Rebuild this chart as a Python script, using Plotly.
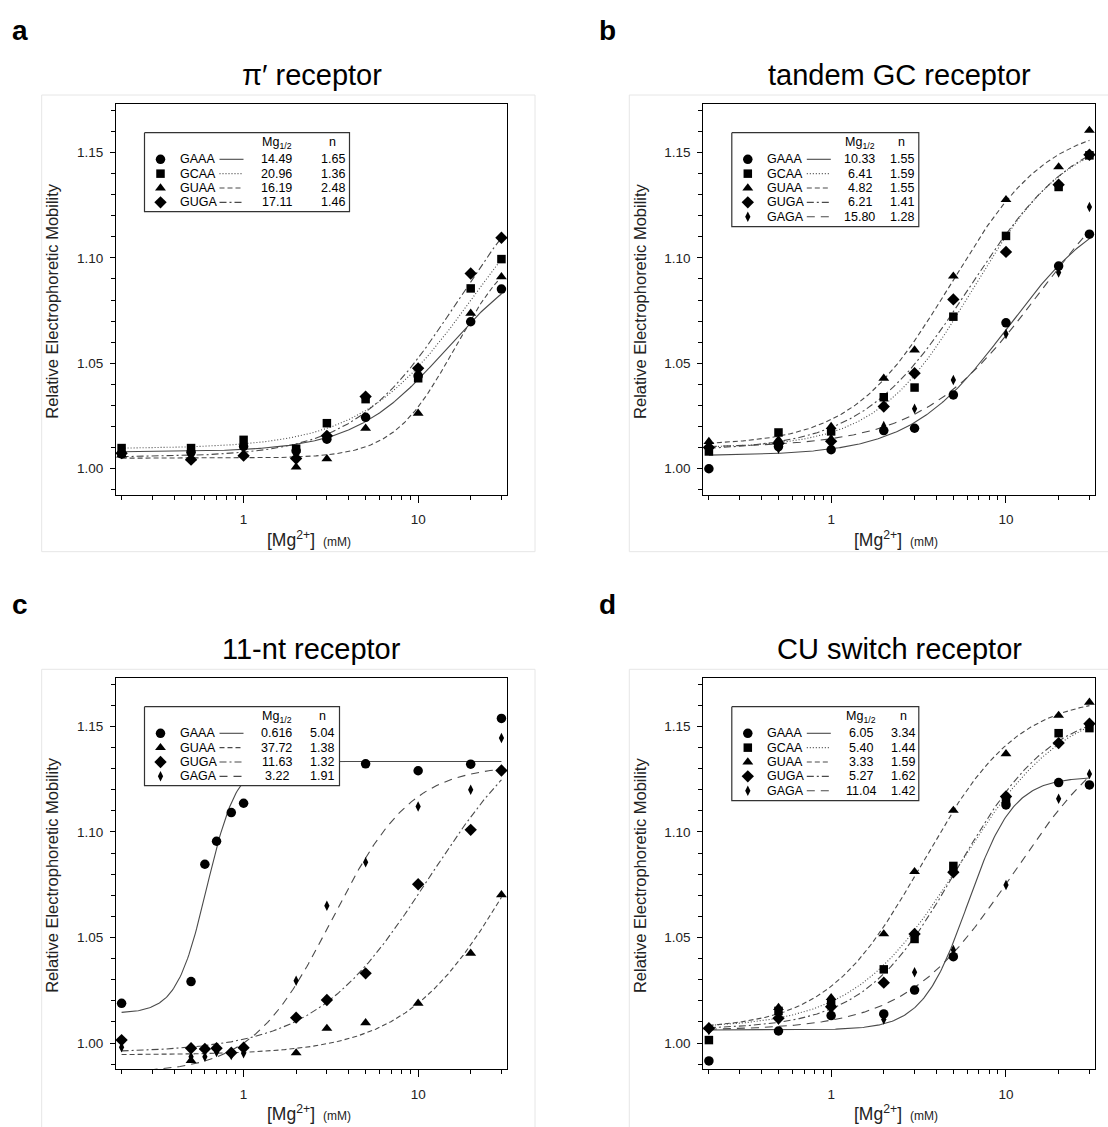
import numpy as np
import plotly.graph_objects as go

# ---------------- data ----------------
conc = [0.2, 0.5, 1, 2, 3, 5, 10, 20, 30]
conc_c = [0.2, 0.5, 0.6, 0.7, 0.85, 1, 2, 3, 5, 10, 20, 30]
conc_c_gaaa = [0.2, 0.5, 0.6, 0.7, 0.85, 1, 5, 10, 20, 30]
conc_c_guaa = [0.5, 2, 3, 5, 10, 20, 30]

names_4 = ["GAAA", "GCAA", "GUAA", "GUGA"]
names_5 = ["GAAA", "GCAA", "GUAA", "GUGA", "GAGA"]
names_c = ["GAAA", "GUAA", "GUGA", "GAGA"]

# panel a  (pi' receptor)
a_GAAA = [1.0071, 1.0078, 1.0106, 1.0085, 1.0140, 1.0244, 1.0440, 1.0697, 1.0852]
a_GCAA = [1.0098, 1.0098, 1.0137, 1.0095, 1.0216, 1.0330, 1.0429, 1.0855, 1.0994]
a_GUAA = [1.0065, 1.0048, 1.0066, 1.0008, 1.0047, 1.0192, 1.0263, 1.0737, 1.0910]
a_GUGA = [1.0074, 1.0043, 1.0062, 1.0048, 1.0156, 1.0342, 1.0476, 1.0926, 1.1095]
a_mg = ["14.49", "20.96", "16.19", "17.11"]
a_n = ["1.65", "1.36", "2.48", "1.46"]
a_K = [14.49, 20.96, 16.19, 17.11]
a_h = [1.65, 1.36, 2.48, 1.46]
a_y0 = [1.0080, 1.0095, 1.0050, 1.0055]
a_amp = [0.0974, 0.1451, 0.1046, 0.1498]

# panel b  (tandem GC receptor)
b_GAAA = [1.0000, 1.0105, 1.0090, 1.0181, 1.0192, 1.0350, 1.0692, 1.0961, 1.1112]
b_GCAA = [1.0082, 1.0172, 1.0177, 1.0339, 1.0385, 1.0721, 1.1104, 1.1336, 1.1486]
b_GUAA = [1.0129, 1.0137, 1.0200, 1.0429, 1.0563, 1.0913, 1.1276, 1.1431, 1.1604]
b_GUGA = [1.0101, 1.0120, 1.0130, 1.0295, 1.0453, 1.0803, 1.1028, 1.1347, 1.1489]
b_GAGA = [1.0098, 1.0095, 1.0145, 1.0203, 1.0284, 1.0421, 1.0639, 1.0931, 1.1241]
b_mg = ["10.33", "6.41", "4.82", "6.21", "15.80"]
b_n = ["1.55", "1.59", "1.55", "1.41", "1.28"]
b_K = [10.33, 6.41, 4.82, 6.21, 15.80]
b_h = [1.55, 1.59, 1.55, 1.41, 1.28]
b_y0 = [1.0062, 1.0098, 1.0110, 1.0085, 1.0100]
b_amp = [0.1226, 0.1499, 0.1532, 0.1553, 0.1483]

# panel c  (11-nt receptor)
c_GAAA = [1.0188, 1.0291, 1.0847, 1.0956, 1.1092, 1.1136, 1.1323, 1.1290, 1.1321, 1.1538]
c_GUAA = [0.9917, 0.9953, 1.0069, 1.0096, 1.0188, 1.0425, 1.0702]
c_GUGA = [1.0014, 0.9975, 0.9972, 0.9975, 0.9954, 0.9978, 1.0120, 1.0204, 1.0330, 1.0752, 1.1010, 1.1291]
c_GAGA = [0.9980, 0.9935, 0.9935, 0.9958, 0.9943, 0.9951, 1.0295, 1.0650, 1.0857, 1.1121, 1.1200, 1.1445]
c_mg = ["0.616", "37.72", "11.63", "3.22"]
c_n = ["5.04", "1.38", "1.32", "1.91"]
c_K = [0.616, 37.72, 11.63, 3.22]
c_h = [5.04, 1.38, 1.32, 1.91]
c_y0 = [1.0141, 0.9944, 0.9955, 0.9858]
c_amp = [0.1193, 0.1770, 0.1662, 0.1460]

# panel d  (CU switch receptor)
d_GAAA = [0.9915, 1.0057, 1.0130, 1.0138, 1.0251, 1.0409, 1.1128, 1.1234, 1.1223]
d_GCAA = [1.0014, 1.0152, 1.0190, 1.0349, 1.0493, 1.0839, 1.1150, 1.1468, 1.1492]
d_GUAA = [1.0074, 1.0168, 1.0215, 1.0517, 1.0812, 1.1102, 1.1370, 1.1552, 1.1614]
d_GUGA = [1.0070, 1.0117, 1.0172, 1.0286, 1.0517, 1.0809, 1.1168, 1.1421, 1.1513]
d_GAGA = [1.0062, 1.0110, 1.0164, 1.0112, 1.0335, 1.0441, 1.0749, 1.1157, 1.1275]
d_mg = ["6.05", "5.40", "3.33", "5.27", "11.04"]
d_n = ["3.34", "1.44", "1.59", "1.62", "1.42"]
d_K = [6.05, 5.40, 3.33, 5.27, 11.04]
d_h = [3.34, 1.44, 1.59, 1.62, 1.42]
d_y0 = [1.0062, 1.0070, 1.0065, 1.0065, 1.0060]
d_amp = [0.1199, 0.1550, 0.1580, 0.1524, 0.1494]

titles = ["\u03c0\u2032 receptor", "tandem GC receptor", "11-nt receptor", "CU switch receptor"]
letters = ["a", "b", "c", "d"]
y_ticks = [1.00, 1.05, 1.10, 1.15]
y_ticktext = ["1.00", "1.05", "1.10", "1.15"]
x_ticks = [1, 10]
x_ticktext = ["1", "10"]
x_minor = [0.2, 0.3, 0.4, 0.5, 0.6, 0.7, 0.8, 0.9, 2, 3, 4, 5, 6, 7, 8, 9, 20, 30]

# ---------------- styles ----------------
W, H = 1108, 1127
SYM = {"GAAA": ("circle", 9.5), "GCAA": ("square", 8.5), "GUAA": ("triangle-up", 9.5),
       "GUGA": ("diamond", 9.5), "GAGA": ("diamond-tall", 7.5)}
DASH = {"GAAA": "solid", "GCAA": "1px,2px", "GUAA": "5px,3px",
        "GUGA": "7px,3px,2px,3px", "GAGA": "8px,6px"}
LINE_COLOR = "#4a4a4a"
FONT = "Liberation Sans, Arial, Helvetica, sans-serif"

# plot area in pixels: left, top, right, bottom
areas = [(116, 104.3, 507, 495), (703.3, 104.3, 1095, 495),
         (116, 678.3, 507, 1069.3), (703.3, 678.3, 1095, 1069.3)]
# legend box: width, height, mg column centre, n column centre
legend_geo = [(205, 79, 132, 188), (187, 94, 128, 170),
              (195, 79, 132, 177.7), (187, 94, 129.6, 171.6)]
# faint outer frames
frames = [(41.7, 95, 535, 551.7), (629.3, 95, 1115, 551.7),
          (41.7, 669.3, 535, 1135), (629.3, 669.3, 1115, 1135)]

X_RANGE = [-0.731, 1.509]
Y_RANGE = [0.98755, 1.1728]


def px(x):
    return x / W


def py(y):
    return 1 - y / H


def hill(x, K, h, y0, amp):
    x = np.asarray(x, dtype=float)
    return y0 + amp * x ** h / (K ** h + x ** h)


panels = [
    dict(names=names_4, xs=[conc] * 4, ys=[a_GAAA, a_GCAA, a_GUAA, a_GUGA],
         mg=a_mg, n=a_n, K=a_K, h=a_h, y0=a_y0, amp=a_amp),
    dict(names=names_5, xs=[conc] * 5, ys=[b_GAAA, b_GCAA, b_GUAA, b_GUGA, b_GAGA],
         mg=b_mg, n=b_n, K=b_K, h=b_h, y0=b_y0, amp=b_amp),
    dict(names=names_c, xs=[conc_c_gaaa, conc_c_guaa, conc_c, conc_c],
         ys=[c_GAAA, c_GUAA, c_GUGA, c_GAGA],
         mg=c_mg, n=c_n, K=c_K, h=c_h, y0=c_y0, amp=c_amp),
    dict(names=names_5, xs=[conc] * 5, ys=[d_GAAA, d_GCAA, d_GUAA, d_GUGA, d_GAGA],
         mg=d_mg, n=d_n, K=d_K, h=d_h, y0=d_y0, amp=d_amp),
]

fig = go.Figure()
annotations = []
shapes = []
xfit = np.logspace(np.log10(0.2), np.log10(30), 300)

for i, p in enumerate(panels):
    k = i + 1
    xa = "x" if k == 1 else f"x{k}"
    ya = "y" if k == 1 else f"y{k}"
    # fit curves
    for j, nm in enumerate(p["names"]):
        fig.add_trace(go.Scatter(
            x=xfit, y=hill(xfit, p["K"][j], p["h"][j], p["y0"][j], p["amp"][j]),
            mode="lines", xaxis=xa, yaxis=ya, hoverinfo="skip",
            line=dict(color=LINE_COLOR, width=1.1, dash=DASH[nm])))
    # data points
    for j, nm in enumerate(p["names"]):
        s, sz = SYM[nm]
        fig.add_trace(go.Scatter(
            x=p["xs"][j], y=p["ys"][j], mode="markers", xaxis=xa, yaxis=ya,
            cliponaxis=False, name=nm,
            marker=dict(symbol=s, size=sz, color="black", line=dict(width=0))))

    l, t, r, b = areas[i]
    axcommon = dict(showline=True, linecolor="black", linewidth=1, mirror=True,
                    showgrid=False, zeroline=False, ticks="outside",
                    tickcolor="black", tickwidth=1,
                    tickfont=dict(family=FONT, size=13.5, color="#222"))
    fig.update_layout(**{
        ("xaxis" if k == 1 else f"xaxis{k}"): dict(
            axcommon, type="log", range=X_RANGE, domain=[px(l), px(r)],
            anchor=ya, tickmode="array", tickvals=x_ticks, ticktext=x_ticktext,
            ticklen=7, ticklabelstandoff=5,
            minor=dict(tickmode="array", tickvals=x_minor, ticks="outside",
                       ticklen=4, tickcolor="black", showgrid=False)),
        ("yaxis" if k == 1 else f"yaxis{k}"): dict(
            axcommon, range=Y_RANGE, domain=[py(b), py(t)], anchor=xa,
            tickmode="array", tickvals=y_ticks, ticktext=y_ticktext,
            ticklen=5, ticklabelstandoff=4,
            minor=dict(dtick=0.01, tick0=0, ticks="outside", ticklen=4,
                       tickcolor="black", showgrid=False)),
    })

    # faint outer frame
    fl, ft, fr, fb = frames[i]
    shapes.append(dict(type="rect", xref="paper", yref="paper",
                       x0=px(fl), x1=px(fr), y0=py(fb), y1=py(ft),
                       line=dict(color="#e6e6e6", width=1), layer="below"))

    # titles / letters / axis labels
    cx = (l + r) / 2
    annotations.append(dict(text=titles[i], x=px(cx), y=py(t - 29.5),
                            xref="paper", yref="paper", showarrow=False,
                            xanchor="center", yanchor="middle",
                            font=dict(family=FONT, size=29, color="black")))
    annotations.append(dict(text="<b>" + letters[i] + "</b>", x=px(l - 106),
                            y=py(t - 74), xref="paper", yref="paper",
                            showarrow=False, xanchor="left", yanchor="middle",
                            font=dict(family=FONT, size=28, color="black")))
    annotations.append(dict(text="Relative Electrophoretic Mobility",
                            x=px(l - 64), y=py((t + b) / 2 + 1), xref="paper",
                            yref="paper", showarrow=False, textangle=-90,
                            xanchor="center", yanchor="middle",
                            font=dict(family=FONT, size=16.5, color="#222")))
    annotations.append(dict(text="[Mg<sup>2+</sup>]", x=px(l + 201), y=py(b + 57),
                            xref="paper", yref="paper", showarrow=False,
                            xanchor="right", yanchor="bottom",
                            font=dict(family=FONT, size=17.5, color="#222")))
    annotations.append(dict(text="(mM)", x=px(l + 205), y=py(b + 56),
                            xref="paper", yref="paper", showarrow=False,
                            xanchor="left", yanchor="bottom",
                            font=dict(family=FONT, size=12, color="#222")))

    # custom legend box
    lw, lh, mgc, nc = legend_geo[i]
    L0, T0 = l + 28.5, t + 28.4
    fig.add_trace(go.Scatter(
        x=[L0, L0 + lw, L0 + lw, L0, L0], y=[T0, T0, T0 + lh, T0 + lh, T0],
        mode="lines", fill="toself", fillcolor="white",
        line=dict(color="#333", width=1.2), xaxis="x5", yaxis="y5",
        hoverinfo="skip"))
    annotations.append(dict(text="Mg<sub>1/2</sub>", x=px(L0 + mgc), y=py(T0 + 10.5),
                            xref="paper", yref="paper", showarrow=False,
                            xanchor="center", yanchor="middle",
                            font=dict(family=FONT, size=12.5, color="black")))
    annotations.append(dict(text="n", x=px(L0 + nc), y=py(T0 + 9),
                            xref="paper", yref="paper", showarrow=False,
                            xanchor="center", yanchor="middle",
                            font=dict(family=FONT, size=12.5, color="black")))
    for j, nm in enumerate(p["names"]):
        ry = T0 + 26.6 + 14.35 * j
        s, sz = SYM[nm]
        fig.add_trace(go.Scatter(
            x=[L0 + 16], y=[ry], mode="markers", xaxis="x5", yaxis="y5",
            marker=dict(symbol=s, size=sz, color="black"), hoverinfo="skip"))
        fig.add_trace(go.Scatter(
            x=[L0 + 75, L0 + 99], y=[ry, ry], mode="lines", xaxis="x5", yaxis="y5",
            line=dict(color=LINE_COLOR, width=1.1, dash=DASH[nm]), hoverinfo="skip"))
        for txt, xx, anc in [(nm, L0 + 33.5, "left"), (p["mg"][j], L0 + mgc, "center"),
                             (p["n"][j], L0 + nc, "center")]:
            annotations.append(dict(text=txt, x=px(xx), y=py(ry), xref="paper",
                                    yref="paper", showarrow=False, xanchor=anc,
                                    yanchor="middle",
                                    font=dict(family=FONT, size=12.5, color="black")))

fig.update_layout(
    width=W, height=H, autosize=False,
    margin=dict(l=0, r=0, t=0, b=0, pad=0),
    paper_bgcolor="white", plot_bgcolor="rgba(0,0,0,0)",
    showlegend=False, template="none",
    xaxis5=dict(domain=[0, 1], range=[0, W], visible=False, anchor="y5",
                fixedrange=True),
    yaxis5=dict(domain=[0, 1], range=[H, 0], visible=False, anchor="x5",
                fixedrange=True),
    annotations=annotations, shapes=shapes,
)

fig.write_html("out.html", config=dict(displayModeBar=False),
               post_script="document.body.style.margin='0';document.documentElement.style.overflow='hidden';")
